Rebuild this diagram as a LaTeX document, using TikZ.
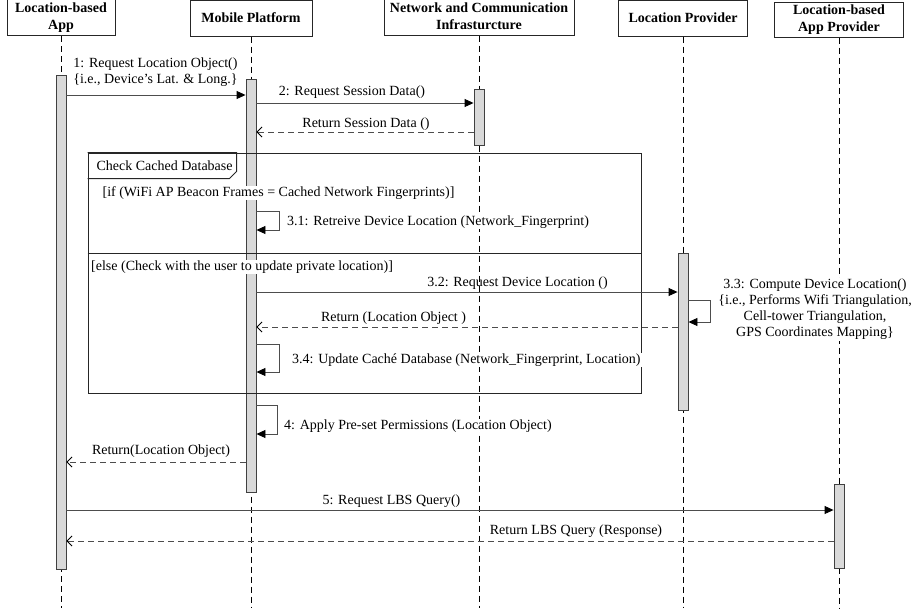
\documentclass[tikz,border=0pt]{standalone}
\usepackage{fontspec}
\setmainfont{Liberation Serif}
\usetikzlibrary{arrows.meta}
\definecolor{barra}{HTML}{D9D9D9}
\definecolor{borde}{HTML}{404040}
\definecolor{linea}{HTML}{4D4D4D}

\tikzset{
  actor/.style={draw=black!85, line width=1pt, fill=white,
                font=\fontsize{14}{17}\selectfont\bfseries,
                align=center, inner sep=0pt},
  activa/.style={draw=borde, line width=0.9pt, fill=barra, minimum width=10pt, inner sep=0pt},
  vida/.style={black, line width=0.8pt, dash pattern=on 6pt off 4pt},
  llamada/.style={linea, line width=0.9pt, -{Triangle[length=9pt,width=8pt,color=black]}},
  retorno/.style={linea, line width=0.8pt, dash pattern=on 6pt off 4pt,
                  -{Straight Barb[length=5pt,width=10pt,color=black]}},
  etiq/.style={fill=white, inner sep=1pt},
}

\begin{document}
\begin{tikzpicture}[x=1pt, y=-1pt, font=\fontsize{14}{16}\selectfont]

  \useasboundingbox (0,0) rectangle (917,608);
  \coordinate (fondo) at (0,608);

  % --- Cabeceras de los participantes ---
  \node[actor, minimum width=108pt, minimum height=36pt] (app)  at (61,17.5)  {Location-based\\App};
  \node[actor, minimum width=122pt, minimum height=36pt] (mp)   at (251,18)   {Mobile Platform};
  \node[actor, minimum width=190pt, minimum height=37pt] (red)  at (479,16.5) {Network and Communication\\Infrasturcture};
  \node[actor, minimum width=129pt, minimum height=36pt] (lp)   at (683,18)   {Location Provider};
  \node[actor, minimum width=129pt, minimum height=35pt] (prov) at (839,19.5) {Location-based\\App Provider};

  % --- Líneas de vida ---
  \foreach \p in {app, mp, red, lp, prov}
    \draw[vida] (\p.south) -- (\p |- fondo);

  % --- Barras de activación ---
  \node[activa, minimum height=494pt] (barApp)  at (61,322)    {};
  \node[activa, minimum height=413pt] (barMP)   at (251,285.5) {};
  \node[activa, minimum height=56pt]  (barRed)  at (479,117)   {};
  \node[activa, minimum height=157pt] (barLP)   at (683,331.5) {};
  \node[activa, minimum height=84pt]  (barProv) at (839,526)   {};

  % --- Fragmento alt: Check Cached Database ---
  \node[draw=black!85, line width=0.9pt, minimum width=553pt, minimum height=240pt,
        inner sep=0pt] (marco) at (364.5,273) {};
  \draw[black!85, line width=0.9pt] (marco.north west) -- ++(149,0) -- ++(0,19)
        -- ++(-7,7) -- ++(-142,0);
  \node[anchor=west] (tabla) at (93,166) {Check Cached Database};
  \draw[black!85, line width=0.9pt] (marco.west |- 0,253) -- (marco.east |- 0,253);
  \node[etiq] (gIf) at (278.5,193)
    {[if (WiFi AP Beacon Frames = Cached Network Fingerprints)]};
  \node[etiq, anchor=west] (gElse) at (90,267)
    {[else (Check with the user to update private location)]};

  % ===================== Mensajes =====================
  % 1
  \draw[llamada] (barApp.east |- 0,95) -- (barMP.west |- 0,95);
  \node[align=center] (e1) at (155.5,72)
    {1: Request Location Object()\\\{i.e., Device's Lat. \& Long.\}};

  % 2 y retorno
  \draw[llamada] (barMP.east |- 0,103) -- (barRed.west |- 0,103);
  \node (e2) at (352,92) {2: Request Session Data()};
  \draw[retorno] (barRed.west |- 0,132) -- (barMP.east |- 0,132);
  \node (e2r) at (366,124) {Return Session Data ()};

  % 3.1 (mensaje a sí mismo)
  \draw[llamada] (barMP.east |- 0,211) -- ++(23,0) -- ++(0,19) -- (barMP.east |- 0,230);
  \node[etiq, anchor=west] (e31) at (286,222)
    {3.1: Retreive Device Location (Network\_Fingerprint)};

  % 3.2 y retorno
  \draw[llamada] (barMP.east |- 0,292) -- (barLP.west |- 0,292);
  \node (e32) at (517.5,283) {3.2: Request Device Location ()};
  \draw[retorno] (barLP.west |- 0,327) -- (barMP.east |- 0,327);
  \node (e32r) at (393.5,318) {Return (Location Object )};

  % 3.3
  \draw[llamada] (barLP.east |- 0,300) -- ++(22,0) -- ++(0,22) -- (barLP.east |- 0,322);
  \node[etiq, align=center] (e33) at (815,309.5)
    {3.3: Compute Device Location()\\\{i.e., Performs Wifi Triangulation,\\
     Cell-tower Triangulation,\\GPS Coordinates Mapping\}};

  % 3.4
  \draw[llamada] (barMP.east |- 0,344) -- ++(23,0) -- ++(0,28) -- (barMP.east |- 0,372);
  \node[etiq, anchor=west] (e34) at (291,360)
    {3.4: Update Caché Database (Network\_Fingerprint, Location)};

  % 4
  \draw[llamada] (barMP.east |- 0,405) -- ++(21,0) -- ++(0,29) -- (barMP.east |- 0,434);
  \node[etiq, anchor=west] (e4) at (283,426.5)
    {4: Apply Pre-set Permissions (Location Object)};

  \draw[retorno] (barMP.west |- 0,462) -- (barApp.east |- 0,462);
  \node (e4r) at (161,451) {Return(Location Object)};

  % 5 y retorno
  \draw[llamada] (barApp.east |- 0,510) -- (barProv.west |- 0,510);
  \node (e5) at (391.5,501) {5: Request LBS Query()};
  \draw[retorno] (barProv.west |- 0,541) -- (barApp.east |- 0,541);
  \node (e5r) at (576,531) {Return LBS Query (Response)};

\end{tikzpicture}
\end{document}
